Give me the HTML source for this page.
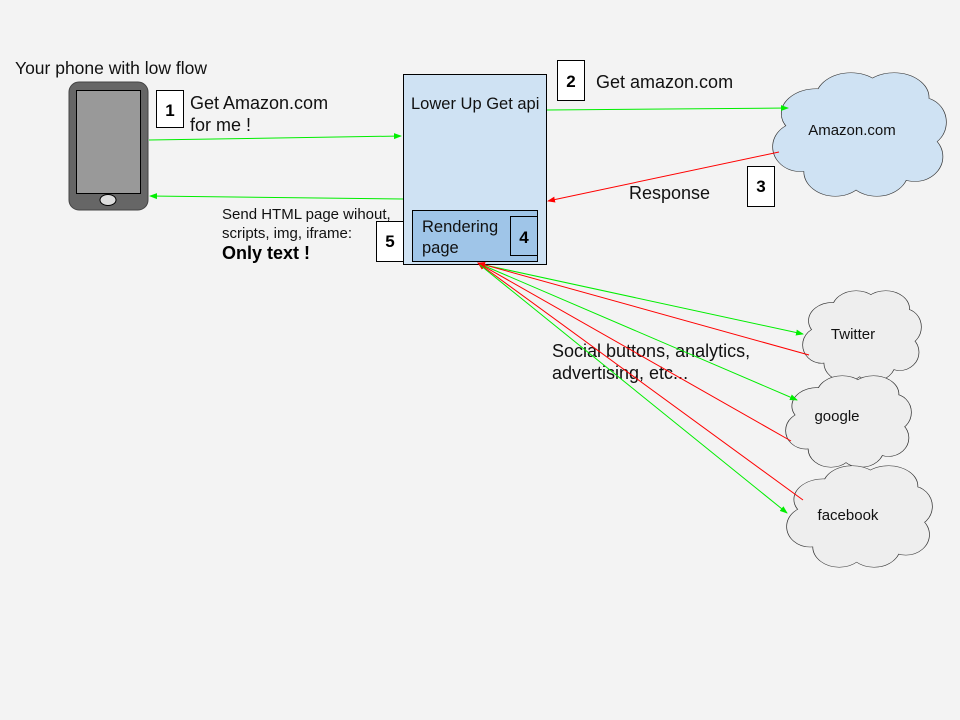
<!DOCTYPE html>
<html><head><meta charset="utf-8"><style>
html,body{margin:0;padding:0;background:#f3f3f3;}
svg{display:block;font-family:"Liberation Sans",Arial,sans-serif;}
</style></head><body>
<svg width="960" height="720" viewBox="0 0 960 720" xmlns="http://www.w3.org/2000/svg">
<defs>
<marker id="ag" markerWidth="8" markerHeight="8" refX="7" refY="4" orient="auto" markerUnits="userSpaceOnUse"><path d="M0,1 L8,4 L0,7z" fill="#00ee00"/></marker>
<marker id="ar" markerWidth="8" markerHeight="8" refX="7" refY="4" orient="auto" markerUnits="userSpaceOnUse"><path d="M0,1 L8,4 L0,7z" fill="#ff0000"/></marker>
<g id="cl">
<ellipse cx="0.25" cy="0.33" rx="0.2" ry="0.2"/>
<ellipse cx="0.45" cy="0.2" rx="0.2" ry="0.2"/>
<ellipse cx="0.7" cy="0.2" rx="0.2" ry="0.2"/>
<ellipse cx="0.86" cy="0.4" rx="0.14" ry="0.2"/>
<ellipse cx="0.82" cy="0.68" rx="0.16" ry="0.2"/>
<ellipse cx="0.6" cy="0.8" rx="0.18" ry="0.2"/>
<ellipse cx="0.36" cy="0.8" rx="0.18" ry="0.2"/>
<ellipse cx="0.16" cy="0.6" rx="0.16" ry="0.2"/>
<ellipse cx="0.5" cy="0.5" rx="0.35" ry="0.3"/>
</g>
</defs>
<!-- clouds -->
<g transform="translate(773,73) scale(173,123)"><use href="#cl" fill="#cfe2f3" stroke="#333" stroke-width="0.008"/></g>
<g transform="translate(773,73) scale(173,123)"><use href="#cl" fill="#cfe2f3"/></g>
<g transform="translate(803,291) scale(118,90)"><use href="#cl" fill="#eeeeee" stroke="#333" stroke-width="0.012"/></g>
<g transform="translate(803,291) scale(118,90)"><use href="#cl" fill="#eeeeee"/></g>
<g transform="translate(786,376) scale(125,91)"><use href="#cl" fill="#eeeeee" stroke="#333" stroke-width="0.012"/></g>
<g transform="translate(786,376) scale(125,91)"><use href="#cl" fill="#eeeeee"/></g>
<g transform="translate(787,466) scale(145,101)"><use href="#cl" fill="#eeeeee" stroke="#333" stroke-width="0.01"/></g>
<g transform="translate(787,466) scale(145,101)"><use href="#cl" fill="#eeeeee"/></g>
<text x="852" y="135" font-size="15" text-anchor="middle" fill="#111">Amazon.com</text>
<text x="853" y="339" font-size="15" text-anchor="middle" fill="#111">Twitter</text>
<text x="837" y="421" font-size="15" text-anchor="middle" fill="#111">google</text>
<text x="848" y="520" font-size="15" text-anchor="middle" fill="#111">facebook</text>

<!-- phone -->
<text x="15" y="74" font-size="17.5" fill="#111">Your phone with low flow</text>
<rect x="69" y="82" width="79" height="128" rx="10" fill="#666" stroke="#444"/>
<rect x="76.5" y="90.5" width="64" height="103" fill="#999" stroke="#000"/>
<ellipse cx="108" cy="200" rx="8" ry="5.5" fill="#ddd" stroke="#000"/>

<!-- main box -->
<rect x="403.5" y="74.5" width="143" height="190" fill="#cfe2f3" stroke="#000"/>
<text x="411" y="109" font-size="16.5" fill="#111">Lower Up Get api</text>
<rect x="412.5" y="210.5" width="125" height="51" fill="#9fc5e8" stroke="#000"/>
<rect x="510.5" y="216.5" width="27" height="39" fill="#9fc5e8" stroke="#000"/>
<text x="524" y="243" font-size="17" font-weight="bold" text-anchor="middle">4</text>
<text x="422" y="232" font-size="16.5" fill="#111">Rendering</text>
<text x="422" y="253" font-size="16.5" fill="#111">page</text>

<!-- number boxes -->
<rect x="156.5" y="90.5" width="27" height="37" fill="#fff" stroke="#000"/>
<text x="170" y="116" font-size="17" font-weight="bold" text-anchor="middle">1</text>
<rect x="557.5" y="60.5" width="27" height="40" fill="#fff" stroke="#000"/>
<text x="571" y="87" font-size="17" font-weight="bold" text-anchor="middle">2</text>
<rect x="747.5" y="166.5" width="27" height="40" fill="#fff" stroke="#000"/>
<text x="761" y="192" font-size="17" font-weight="bold" text-anchor="middle">3</text>
<rect x="376.5" y="221.5" width="27" height="40" fill="#fff" stroke="#000"/>
<text x="390" y="247" font-size="17" font-weight="bold" text-anchor="middle">5</text>

<!-- labels -->
<text x="190" y="109" font-size="18" fill="#111">Get Amazon.com</text>
<text x="190" y="131" font-size="18" fill="#111">for me !</text>
<text x="596" y="88" font-size="18" fill="#111">Get amazon.com</text>
<text x="629" y="199" font-size="18" fill="#111">Response</text>
<text x="222" y="219" font-size="15" fill="#111">Send HTML page wihout,</text>
<text x="222" y="238" font-size="15" fill="#111">scripts, img, iframe:</text>
<text x="222" y="259" font-size="18" font-weight="bold" fill="#000">Only text !</text>
<text x="552" y="357" font-size="18" fill="#111">Social buttons, analytics,</text>
<text x="552" y="379" font-size="18" fill="#111">advertising, etc...</text>

<!-- connectors -->
<g stroke-width="1" fill="none">
<line x1="149" y1="140" x2="401" y2="136" stroke="#00ee00" marker-end="url(#ag)"/>
<line x1="403" y1="199" x2="150" y2="196" stroke="#00ee00" marker-end="url(#ag)"/>
<line x1="547" y1="110" x2="788" y2="108" stroke="#00ee00" marker-end="url(#ag)"/>
<line x1="779" y1="152" x2="548" y2="201" stroke="#ff0000" marker-end="url(#ar)"/>
<line x1="480" y1="264" x2="803" y2="334" stroke="#00ee00" marker-end="url(#ag)"/>
<line x1="809" y1="355" x2="478" y2="263" stroke="#ff0000" marker-end="url(#ar)"/>
<line x1="480" y1="264" x2="797" y2="400" stroke="#00ee00" marker-end="url(#ag)"/>
<line x1="791" y1="441" x2="478" y2="263" stroke="#ff0000" marker-end="url(#ar)"/>
<line x1="803" y1="500" x2="478" y2="263" stroke="#ff0000" marker-end="url(#ar)"/>
<line x1="480" y1="265" x2="787" y2="513" stroke="#00ee00" marker-end="url(#ag)"/>
</g>
</svg>
</body></html>
